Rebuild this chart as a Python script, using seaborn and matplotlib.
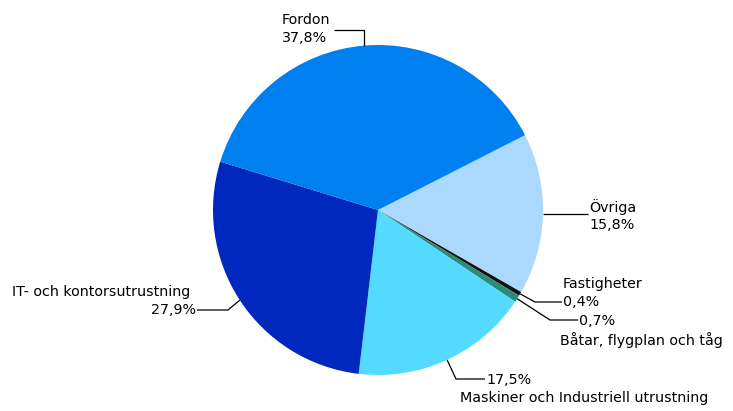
import numpy as np
import matplotlib
matplotlib.use("Agg")
import matplotlib.pyplot as plt
import seaborn as sns

categories = ["Övriga", "Fastigheter", "Båtar, flygplan och tåg",
              "Maskiner och Industriell utrustning", "IT- och kontorsutrustning", "Fordon"]
values = [15.8, 0.4, 0.7, 17.5, 27.9, 37.8]
pct_labels = ["15,8%", "0,4%", "0,7%", "17,5%", "27,9%", "37,8%"]
colors = ["#AAD8FF", "#111111", "#2A8C7C", "#55DAFF", "#0028BE", "#0080F0"]

sns.set_theme(style="white")
plt.rcParams['font.family'] = ['DejaVu Sans']

W, H = 733, 411
fig = plt.figure(figsize=(W / 100, H / 100), dpi=100)
ax = fig.add_axes([0, 0, 1, 1])

def py(y):
    return H - y

cx, cy, R = 378, py(210), 165
wedges, _ = ax.pie(values, colors=colors, startangle=27, counterclock=False,
                   center=(cx, cy), radius=R, wedgeprops=dict(linewidth=0))
ax.set_xlim(0, W)
ax.set_ylim(0, H)
ax.set_aspect('equal')
ax.axis('off')

# layout per slice: leader bend point, leader end, label positions (pixel coords)
layout = {
    "Fordon": dict(bend=(None, 30), end=(334, 30), name=(282, 20, 'left'), pct=(282, 38, 'left')),
    "Övriga": dict(bend=None, end=(588, None), name=(589, 207, 'left'), pct=(589, 225, 'left')),
    "Fastigheter": dict(bend=(535, 302), end=(562, 302), name=(563, 284, 'left'), pct=(563, 302, 'left')),
    "Båtar, flygplan och tåg": dict(bend=(550, 320), end=(578, 320), name=(560, 340, 'left'), pct=(579, 321, 'left')),
    "Maskiner och Industriell utrustning": dict(bend=(456, 379), end=(485, 379), name=(460, 398, 'left'), pct=(486, 380, 'left')),
    "IT- och kontorsutrustning": dict(bend=(228, 310), end=(197, 310), name=(12, 292, 'left'), pct=(196, 310, 'right')),
}

fs = 10.3
for w, cat, pct in zip(wedges, categories, pct_labels):
    mid = np.deg2rad((w.theta1 + w.theta2) / 2)
    ex, ey = cx + R * np.cos(mid), cy + R * np.sin(mid)
    L = layout[cat]
    xs, ys = [ex], [ey]
    if L["bend"] is not None:
        bx, by = L["bend"]
        xs.append(ex if bx is None else bx)
        ys.append(ey if by is None else py(by))
    nx, ny = L["end"]
    xs.append(xs[-1] if nx is None else nx)
    ys.append(ys[-1] if ny is None else py(ny))
    ax.plot(xs, ys, color="black", lw=0.9, solid_capstyle="butt")
    x, y, ha = L["name"]
    ax.text(x, py(y), cat, ha=ha, va="center", fontsize=fs, color="black")
    x, y, ha = L["pct"]
    ax.text(x, py(y), pct, ha=ha, va="center", fontsize=fs, color="black")

fig.savefig("out.png", dpi=100, facecolor="white")
